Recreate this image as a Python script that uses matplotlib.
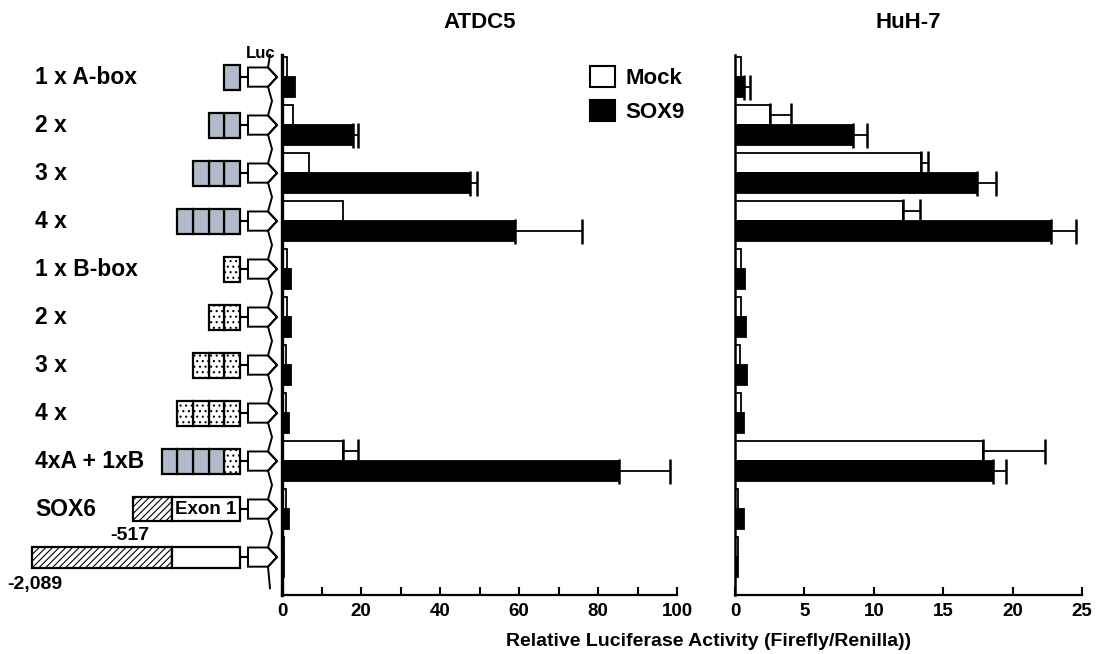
import numpy as np
import matplotlib.pyplot as plt
from matplotlib.patches import Rectangle, Polygon, Patch

plt.rcParams['font.family'] = ['Liberation Sans', 'DejaVu Sans']
plt.rcParams['font.weight'] = 'bold'
plt.rcParams['hatch.linewidth'] = 0.8

# row labels (top to bottom)
rows = ['1 x A-box', '2 x', '3 x', '4 x', '1 x B-box', '2 x', '3 x', '4 x',
        '4xA + 1xB', 'SOX6', '']
a_boxes = [1, 2, 3, 4, 0, 0, 0, 0, 4, 0, 0]
b_boxes = [0, 0, 0, 0, 1, 2, 3, 4, 1, 0, 0]

# ATDC5
atdc5_mock = [1.2, 2.7, 6.8, 15.4, 1.2, 1.2, 0.9, 0.9, 15.5, 0.9, 0.4]
atdc5_mock_err = [0, 0, 0, 0, 0, 0, 0, 0, 3.7, 0, 0]
atdc5_sox9 = [3.3, 18.0, 47.6, 59.0, 2.3, 2.2, 2.2, 1.8, 85.2, 1.8, 0.6]
atdc5_sox9_err = [0, 1.3, 1.8, 17.0, 0, 0, 0, 0, 13.0, 0, 0]

# HuH-7
huh7_mock = [0.45, 2.5, 13.4, 12.1, 0.4, 0.4, 0.35, 0.4, 17.9, 0.25, 0.25]
huh7_mock_err = [0, 1.5, 0.5, 1.2, 0, 0, 0, 0, 4.4, 0, 0]
huh7_sox9 = [0.65, 8.5, 17.4, 22.8, 0.7, 0.8, 0.85, 0.65, 18.6, 0.65, 0.25]
huh7_sox9_err = [0.45, 1.0, 1.4, 1.8, 0, 0, 0, 0, 0.9, 0, 0]

W, H = 1096, 654
fig = plt.figure(figsize=(W / 100, H / 100), dpi=100)

y_top, y_bot = 55, 595
ylim = (10.79, -0.46)
bottom = 1 - y_bot / H
height = (y_bot - y_top) / H

ax0 = fig.add_axes([0, bottom, 282 / W, height])
ax1 = fig.add_axes([282 / W, bottom, 395 / W, height])
ax2 = fig.add_axes([735 / W, bottom, 347 / W, height])

y = np.arange(len(rows))
bh = 0.42


def draw_bars(ax, mock, mock_err, sox9, sox9_err, xmax, step, spine_w):
    ax.barh(y - bh / 2, mock, height=bh, color='white', edgecolor='black', linewidth=1.3)
    ax.barh(y + bh / 2, sox9, height=bh, color='black', edgecolor='black', linewidth=1.3)
    for vals, errs, off in [(mock, mock_err, -bh / 2), (sox9, sox9_err, bh / 2)]:
        for i, (v, e) in enumerate(zip(vals, errs)):
            if e > 0:
                ax.errorbar(v, i + off, xerr=[[0], [e]], fmt='none', ecolor='black',
                            elinewidth=1.3, capsize=9, capthick=1.8)
    ax.set_xlim(0, xmax)
    ax.set_ylim(*ylim)
    ax.spines['top'].set_visible(False)
    ax.spines['right'].set_visible(False)
    ax.spines['left'].set_linewidth(spine_w)
    ax.spines['bottom'].set_linewidth(1.6)
    ax.set_yticks([])
    ax.set_xticks(np.arange(0, xmax + 0.01, step))
    ax.tick_params(axis='x', direction='in', length=6, width=1.5, labelsize=13.5, pad=6)
    ax.margins(0)


draw_bars(ax1, atdc5_mock, atdc5_mock_err, atdc5_sox9, atdc5_sox9_err, 100, 10, 2.4)
ax1.set_xticklabels(['0', '', '20', '', '40', '', '60', '', '80', '', '100'])
draw_bars(ax2, huh7_mock, huh7_mock_err, huh7_sox9, huh7_sox9_err, 25, 5, 1.8)

fig.text(480 / W, 1 - 23 / H, 'ATDC5', ha='center', va='center', fontsize=16)
fig.text(908 / W, 1 - 23 / H, 'HuH-7', ha='center', va='center', fontsize=16)
fig.text(709 / W, 1 - 642 / H, 'Relative Luciferase Activity (Firefly/Renilla))',
         ha='center', va='center', fontsize=14)

ax1.legend(handles=[Patch(facecolor='white', edgecolor='black', linewidth=1.5),
                    Patch(facecolor='black', edgecolor='black', linewidth=1.5)],
           labels=['Mock', 'SOX9'], loc='upper left', bbox_to_anchor=(0.78, 0.98),
           frameon=False, fontsize=16, handlelength=1.1, handleheight=1.1,
           handletextpad=0.5, labelspacing=0.5, borderpad=0, borderaxespad=0)

# construct diagrams
ax0.set_xlim(0, 282)
ax0.set_ylim(*ylim)
ax0.axis('off')
a_col = '#b2bbcb'
box_w = 15.7
box_h = 0.52
for i, lab in enumerate(rows):
    ax0.text(35, i, lab, ha='left', va='center', fontsize=16.5)
    x = 240
    for k in range(b_boxes[i]):
        x -= box_w
        ax0.add_patch(Rectangle((x, i - box_h / 2), box_w, box_h, facecolor='white',
                                edgecolor='black', hatch='...', linewidth=1.6))
    for k in range(a_boxes[i]):
        x -= box_w
        ax0.add_patch(Rectangle((x, i - box_h / 2), box_w, box_h, facecolor=a_col,
                                edgecolor='black', linewidth=1.6))
    # connector + Luc arrow
    ax0.plot([240, 248], [i, i], color='black', lw=1.5)
    ax0.add_patch(Polygon([(248, i - 0.2), (268, i - 0.2), (277, i), (268, i + 0.2),
                           (248, i + 0.2)], closed=True, facecolor='white',
                          edgecolor='black', linewidth=1.4))

# SOX6 promoter constructs
for i, start in [(9, 133), (10, 32)]:
    hgt = 0.5 if i == 9 else 0.44
    ax0.add_patch(Rectangle((start, i - hgt / 2), 172 - start, hgt, facecolor='white',
                            edgecolor='black', hatch='/////', linewidth=1.6))
    ax0.add_patch(Rectangle((172, i - hgt / 2), 68, hgt, facecolor='white',
                            edgecolor='black', linewidth=1.6))
ax0.text(206, 9, 'Exon 1', ha='center', va='center', fontsize=13.5)
ax0.text(130, 9.54, '-517', ha='center', va='center', fontsize=14)
ax0.text(35, 10.58, '-2,089', ha='center', va='center', fontsize=14, clip_on=False)
ax0.text(261, -0.5, 'Luc', ha='center', va='center', fontsize=12, clip_on=False)

# wavy break line through the arrow tips
zx, zy = [270], [-0.46]
for i in range(len(rows)):
    zx += [268, 277, 268, 272]
    zy += [i - 0.2, i, i + 0.2, i + 0.5]
zx[-1], zy[-1] = 270, 10.65
ax0.plot(zx, zy, color='black', lw=1.4, clip_on=False)

fig.savefig('out.png', dpi=100)
